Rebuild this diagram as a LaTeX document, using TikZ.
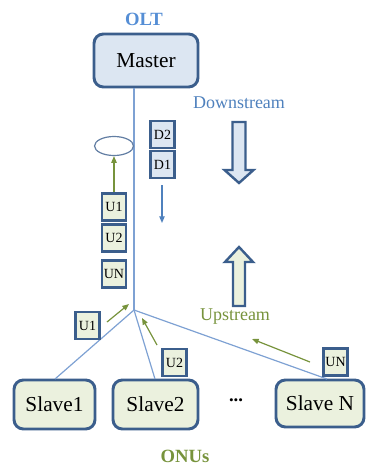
\documentclass[tikz,border=0pt]{standalone}
\usepackage{fontspec}
\setmainfont{Liberation Serif}
\usetikzlibrary{shapes.geometric,arrows.meta}
\definecolor{bdr}{HTML}{3B5E8C}
\definecolor{lblue}{HTML}{DCE6F2}
\definecolor{lgreen}{HTML}{EBF1DE}
\definecolor{linec}{HTML}{7EA1D3}
\definecolor{arrg}{HTML}{77933C}
\definecolor{txtb}{HTML}{4F81BD}
\definecolor{olt}{HTML}{558ED5}
\tikzset{
  bigbox/.style={draw=bdr, line width=2.2pt, rounded corners=7pt, inner sep=0pt, font=\fontsize{16}{18}\selectfont},
  pkt/.style={draw=bdr, line width=2.2pt, inner sep=0pt, minimum width=0.75*24pt, minimum height=0.75*27pt, font=\fontsize{10.5}{12}\selectfont},
  pon/.style={draw=linec, line width=0.9pt},
  garr/.style={draw=arrg, line width=0.9pt, -{Triangle[length=5pt,width=4pt]}},
  barr/.style={draw=txtb, line width=0.9pt, -{Triangle[length=5pt,width=4pt]}},
  blockarr/.style={draw=bdr, line width=1.8pt, line join=miter},
}
\begin{document}
\begin{tikzpicture}[x=0.75pt,y=-0.75pt]
\useasboundingbox (0,0) rectangle (366,464);
% titles
\node[font=\fontsize{14}{16}\selectfont\bfseries, text=olt] (olt) at (144,19) {OLT};
\node[font=\fontsize{14}{16}\selectfont\bfseries, text=arrg, inner sep=0pt, anchor=base] (onus) at (185,462) {ONUs};
% master
\node[bigbox, fill=lblue, minimum width=0.75*104pt, minimum height=0.75*53pt] (master) at (146,60.5) {Master};
% slaves
\node[bigbox, fill=lgreen, minimum width=0.75*81pt, minimum height=0.75*49pt] (s1) at (54.5,404.5) {Slave1};
\node[bigbox, fill=lgreen, minimum width=0.75*85pt, minimum height=0.75*49pt] (s2) at (155.5,404.5) {Slave2};
\node[bigbox, fill=lgreen, minimum width=0.75*88pt, minimum height=0.75*47pt] (sn) at (320,403.5) {Slave N};
\node[font=\fontsize{14}{16}\selectfont\bfseries] (dots) at (236,400) {...};
% tree
\coordinate (j) at (134,310);
\coordinate (mtop) at (134,88);
\draw[pon] (mtop) -- (j);
\draw[pon] (j) -- (55,379);
\draw[pon] (j) -- (155,379);
\draw[pon] (j) -- (327,379);
% downstream
\node[font=\fontsize{13.5}{15}\selectfont, text=txtb] (down) at (239,103) {Downstream};
\draw[blockarr, fill=lblue] (232.5,122) -- (245.5,122) -- (245.5,170) -- (253.5,170) -- (239,183) -- (224.5,170) -- (232.5,170) -- cycle;
\node[pkt, fill=lblue] (d2) at (162.5,134.5) {D2};
\node[pkt, fill=lblue] (d1) at (162.5,164.5) {D1};
\coordinate (da) at (162,185);
\coordinate (db) at (162,223);
\draw[barr] (da) -- (db);
% upstream
\node[font=\fontsize{13.5}{15}\selectfont, text=arrg] (up) at (235,317) {Upstream};
\draw[blockarr, fill=lgreen] (233,306) -- (245,306) -- (245,262) -- (253,262) -- (239,247) -- (225,262) -- (233,262) -- cycle;
\node[draw=bdr!80, line width=0.9pt, ellipse, minimum width=0.75*39pt, minimum height=0.75*19pt, inner sep=0pt] (ell) at (114,146) {};
\node[pkt, fill=lgreen] (u1) at (114,207) {U1};
\node[pkt, fill=lgreen] (u2) at (114,238) {U2};
\node[pkt, fill=lgreen] (un) at (114,274) {UN};
\draw[garr] (u1) -- (ell);
\node[pkt, fill=lgreen] (u1b) at (87.5,325.5) {U1};
\node[pkt, fill=lgreen] (u2b) at (174.5,362.5) {U2};
\node[pkt, fill=lgreen] (unb) at (335.5,362) {UN};
\coordinate (a1s) at (107,322); \coordinate (a1e) at (129,304);
\coordinate (a2s) at (157,345); \coordinate (a2e) at (142,318);
\coordinate (a3s) at (310,362); \coordinate (a3e) at (252,339);
\draw[garr] (a1s) -- (a1e);
\draw[garr] (a2s) -- (a2e);
\draw[garr] (a3s) -- (a3e);
\end{tikzpicture}
\end{document}
